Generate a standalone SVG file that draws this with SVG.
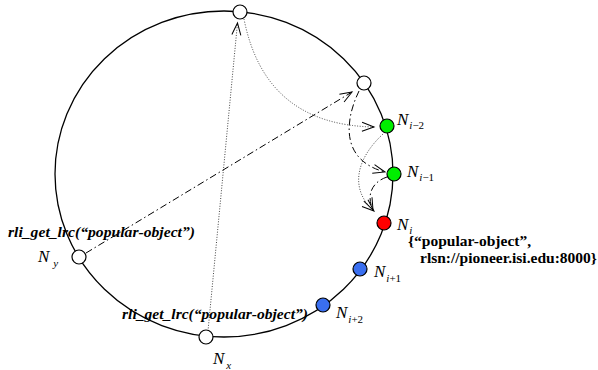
<svg xmlns="http://www.w3.org/2000/svg" width="598" height="370" viewBox="0 0 598 370">
<style>
.ring{fill:none;stroke:#000;stroke-width:1.3}
.node{stroke:#000;stroke-width:1.2}
.dot{fill:none;stroke:#444;stroke-width:1;stroke-dasharray:1 1.6}
.dd{fill:none;stroke:#000;stroke-width:1;stroke-dasharray:7 3 1.5 3}
.lbl{font-family:"Liberation Serif",serif;font-style:italic;font-size:17px;fill:#000}
.sub{font-size:11px}
.up{font-style:normal}
.call{font-family:"Liberation Serif",serif;font-style:italic;font-weight:bold;font-size:15.5px;fill:#000}
.rec{font-family:"Liberation Serif",serif;font-weight:bold;font-size:15.5px;fill:#000}
</style>
<defs>
<marker id="arr" markerUnits="userSpaceOnUse" markerWidth="16" markerHeight="12" refX="13" refY="6" orient="auto">
<path d="M1,1.5 L13,6 L1,10.5" fill="none" stroke="#000" stroke-width="1"/>
</marker>
</defs>
<ellipse class="ring" cx="224" cy="174" rx="169" ry="163"/>
<g id="connectors">
<path class="dot" d="M208,331 L237.5,23" marker-end="url(#arr)"/>
<path class="dot" d="M244,19 Q265,125 374,127" marker-end="url(#arr)"/>
<path class="dd" d="M86,253 L352,92" marker-end="url(#arr)"/>
<path class="dd" d="M359,91 C345,120 340,160 385,172" marker-end="url(#arr)"/>
<path class="dot" d="M383,134 C355,160 350,190 374,211" marker-end="url(#arr)"/>
<path class="dd" d="M387,177 C372,182 366,195 373,210" marker-end="url(#arr)"/>
</g>
<g id="n-top"><circle class="node" cx="240" cy="12" r="7" fill="#fff"/></g>
<g id="n-upper"><circle class="node" cx="364" cy="83" r="7" fill="#fff"/></g>
<g id="n-im2"><circle class="node" cx="387" cy="126" r="7" fill="#00ee00"/>
<text class="lbl" x="397" y="125">N<tspan class="sub" dx="1" dy="4">i</tspan><tspan class="sub up">−2</tspan></text></g>
<g id="n-im1"><circle class="node" cx="394" cy="174" r="7" fill="#00ee00"/>
<text class="lbl" x="407" y="177">N<tspan class="sub" dx="1" dy="4">i</tspan><tspan class="sub up">−1</tspan></text></g>
<g id="n-i"><circle class="node" cx="384" cy="223" r="7" fill="#ff0000"/>
<text class="lbl" x="397" y="230">N<tspan class="sub" dx="1" dy="4">i</tspan></text>
<text class="rec" x="408" y="246">{“popular-object”,</text>
<text class="rec" x="420" y="263">rlsn://pioneer.isi.edu:8000}</text></g>
<g id="n-ip1"><circle class="node" cx="360" cy="269" r="7" fill="#3a6ff0"/>
<text class="lbl" x="374" y="277">N<tspan class="sub" dx="1" dy="5">i</tspan><tspan class="sub up">+1</tspan></text></g>
<g id="n-ip2"><circle class="node" cx="323" cy="305" r="7" fill="#3a6ff0"/>
<text class="lbl" x="336" y="318">N<tspan class="sub" dx="1" dy="5">i</tspan><tspan class="sub up">+2</tspan></text></g>
<g id="n-x"><circle class="node" cx="206" cy="337" r="7" fill="#fff"/>
<text class="lbl" x="213" y="364">N<tspan class="sub" dx="2" dy="5">x</tspan></text>
<text class="call" x="122" y="319" textLength="186" lengthAdjust="spacingAndGlyphs">rli_get_lrc(“popular-object”)</text></g>
<g id="n-y"><circle class="node" cx="79" cy="257" r="7" fill="#fff"/>
<text class="lbl" x="38" y="262">N<tspan class="sub" dx="4" dy="5">y</tspan></text>
<text class="call" x="8" y="237" textLength="187" lengthAdjust="spacingAndGlyphs">rli_get_lrc(“popular-object”)</text></g>
</svg>
